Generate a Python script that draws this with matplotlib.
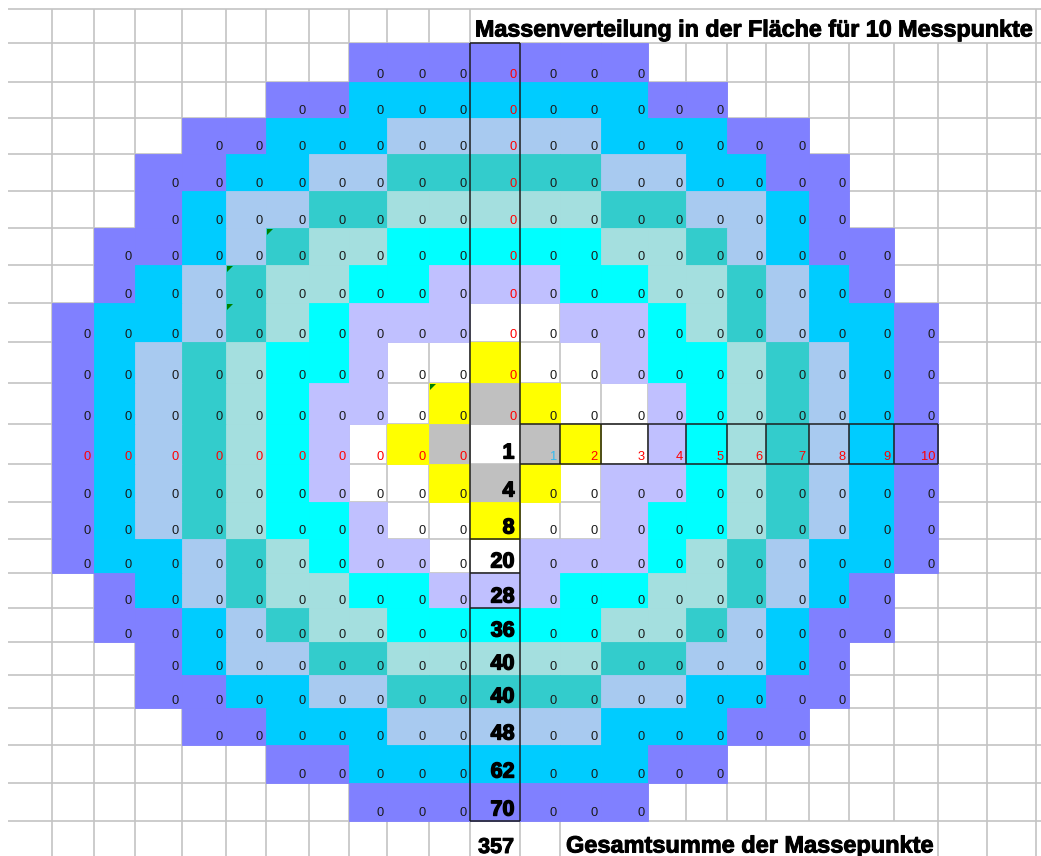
import matplotlib
matplotlib.use("Agg")
import matplotlib.pyplot as plt
from matplotlib.patches import Rectangle, Polygon
from matplotlib.collections import LineCollection
from matplotlib import font_manager as fm
import matplotlib.patheffects as pe

# ---------------- data ----------------
title = "Massenverteilung in der Fläche für 10 Messpunkte"
footer = "Gesamtsumme der Massepunkte"

# ring index of every cell of the 21 x 21 pattern ('.' = empty, 'A' = 10)
ring_rows = [
    ".......AAAAAAA.......",
    ".....AA9999999AA.....",
    "...AA99988888999AA...",
    "..AA9988777778899AA..",
    "..A988776666677889A..",
    ".AA987665555566789AA.",
    ".A98766554445566789A.",
    "A9987654443344567899A",
    "A9876554332334556789A",
    "A9876544321233456789A",
    "A9876543210123456789A",
    "A9876543321234456789A",
    "A9876554332334556789A",
    "A9987654433444567899A",
    ".A98766554445566789A.",
    ".AA987665555566789AA.",
    "..A988776666677889A..",
    "..AA9988777778899AA..",
    "...AA99988888999AA...",
    ".....AA9999999AA.....",
    ".......AAAAAAA.......",
]
ring_counts = [1, 4, 8, 20, 28, 36, 40, 40, 48, 62, 70]
total_points = 357
ring_labels = ["1", "2", "3", "4", "5", "6", "7", "8", "9", "10"]
cell_value = 0
comment_cells = [(-5, -5), (-6, -4), (-6, -3), (-1, -1)]  # (dx, dy)

# ---------------- style / layout ----------------
ring_colors = {1: "#C0C0C0", 2: "#FFFF00", 3: None, 4: "#C0C0FF", 5: "#00FFFF",
               6: "#A4DFDF", 7: "#33CCCC", 8: "#A8CAF0", 9: "#00CCFF", 10: "#8080FF"}
label_colors = ["#33BBEE"] + ["#FF0000"] * 9

W, H = 1041, 856
col_edges = [8, 52, 94, 135, 182, 226, 266, 309, 349, 387, 429, 470, 520,
             560, 601, 648, 686, 727, 766, 809, 849, 894, 938, 987, 1036]
row_edges = [9, 43, 82, 118, 154, 191, 228, 265, 303, 342, 383, 424, 464,
             502, 539, 573, 608, 642, 675, 708, 745, 783, 821, 856]
N = len(ring_rows)
C = N // 2  # centre index

names = {f.name for f in fm.fontManager.ttflist}
narrow = "Liberation Sans Narrow" if "Liberation Sans Narrow" in names else "Liberation Sans"
sans = "Liberation Sans" if "Liberation Sans" in names else "DejaVu Sans"

fig = plt.figure(figsize=(W / 100, H / 100), dpi=100)
ax = fig.add_axes([0, 0, 1, 1])
ax.set_xlim(0, W)
ax.set_ylim(H, 0)
ax.axis("off")

def cell_box(i, j):
    """pattern row i, col j -> (x0, x1, y0, y1) in pixels"""
    c = j + 1
    r = i + 1
    return col_edges[c], col_edges[c + 1], row_edges[r], row_edges[r + 1]

# ---- light grid ----
grid_col = "#C4C4C4"
segs = []
for y in row_edges[:-1]:
    segs.append([(col_edges[0], y), (W, y)])
hdr_hidden = set(col_edges[12:24])
bot_hidden = set(col_edges[14:22])
for x in col_edges[1:]:
    top = row_edges[0] if x not in hdr_hidden else row_edges[1]
    bot = row_edges[-2] if x in bot_hidden else H
    segs.append([(x, top), (x, bot)])
ax.add_collection(LineCollection(segs, colors=grid_col, linewidths=1.2, zorder=1))

# ---- coloured cells ----
for i, row in enumerate(ring_rows):
    for j, ch in enumerate(row):
        if ch == ".":
            continue
        ring = 10 if ch == "A" else int(ch)
        col = ring_colors.get(ring)
        if col is None:
            continue
        x0, x1, y0, y1 = cell_box(i, j)
        ax.add_patch(Rectangle((x0, y0), x1 - x0, y1 - y0, facecolor=col,
                               edgecolor=col, linewidth=0.6, zorder=2))

# ---- cell texts ----
small_fs = 9.3
heavy = [pe.withStroke(linewidth=1.0, foreground="black")]
for i, row in enumerate(ring_rows):
    for j, ch in enumerate(row):
        if ch == ".":
            continue
        x0, x1, y0, y1 = cell_box(i, j)
        if j == C and i >= C:
            ax.text(x1 - 5.5, y1 - 5.5, str(ring_counts[i - C]), ha="right", va="baseline",
                    fontsize=15.5, fontweight="bold", family=sans, color="black",
                    path_effects=heavy, zorder=5)
            continue
        if i == C and j > C:
            k = j - C - 1
            ax.text(x1 - 3, y1 - 4.5, ring_labels[k], ha="right", va="baseline",
                    fontsize=small_fs, family=narrow, color=label_colors[k], zorder=5)
            continue
        red = (j == C and i < C) or (i == C and j < C)
        ax.text(x1 - 3, y1 - 4.5, str(cell_value), ha="right", va="baseline",
                fontsize=small_fs, family=narrow,
                color="#FF0000" if red else "#1A1A1A", zorder=5)

# ---- comment markers ----
for dx, dy in comment_cells:
    x0, x1, y0, y1 = cell_box(dy + C, dx + C)
    ax.add_patch(Polygon([(x0 + 1, y0 + 1), (x0 + 7, y0 + 1), (x0 + 1, y0 + 7)],
                         closed=True, facecolor="#008000", edgecolor="none", zorder=4))

# ---- black borders ----
bk = "#1E1E1E"
cx0, cx1, _, _ = cell_box(0, C)
top_y = row_edges[1]
bot_y = row_edges[-2]
bsegs = [[(cx0, top_y), (cx0, bot_y)], [(cx1, top_y), (cx1, bot_y)],
         [(cx0, top_y), (cx1, top_y)], [(cx0, bot_y), (cx1, bot_y)]]
for k in (3, 4, 5):
    y = cell_box(C + k, C)[2]
    bsegs.append([(cx0, y), (cx1, y)])
_, _, ry0, ry1 = cell_box(C, C)
xr = cell_box(C, N - 1)[1]
bsegs.append([(cx1, ry0), (xr, ry0)])
bsegs.append([(cx1, ry1), (xr, ry1)])
for j in range(C + 1, N):
    x = cell_box(C, j)[1]
    bsegs.append([(x, ry0), (x, ry1)])
ax.add_collection(LineCollection(bsegs, colors=bk, linewidths=1.1, zorder=6))

# ---- title / footer ----
fig.canvas.draw()
rend = fig.canvas.get_renderer()

def fit(x0, x1, y, s, fs, **kw):
    t = ax.text(x0, y, s, fontsize=fs, ha="left", va="baseline", **kw)
    bb = t.get_window_extent(rend)
    t.set_fontsize(fs * (x1 - x0) / bb.width)
    return t

bold_fx = [pe.withStroke(linewidth=0.7, foreground="black")]
fit(475, 1035, 36.5, title, 15, fontweight="bold", family=sans, color="black",
    path_effects=bold_fx, zorder=7)
fit(566, 935, 852.5, footer, 15, fontweight="bold", family=sans, color="black",
    path_effects=bold_fx, zorder=7)
ax.text(cx1 - 6, 853, str(total_points), ha="right", va="baseline", fontsize=15.5,
        fontweight="bold", family=sans, color="black", path_effects=bold_fx, zorder=7)

fig.savefig("out.png", dpi=100, facecolor="white")
